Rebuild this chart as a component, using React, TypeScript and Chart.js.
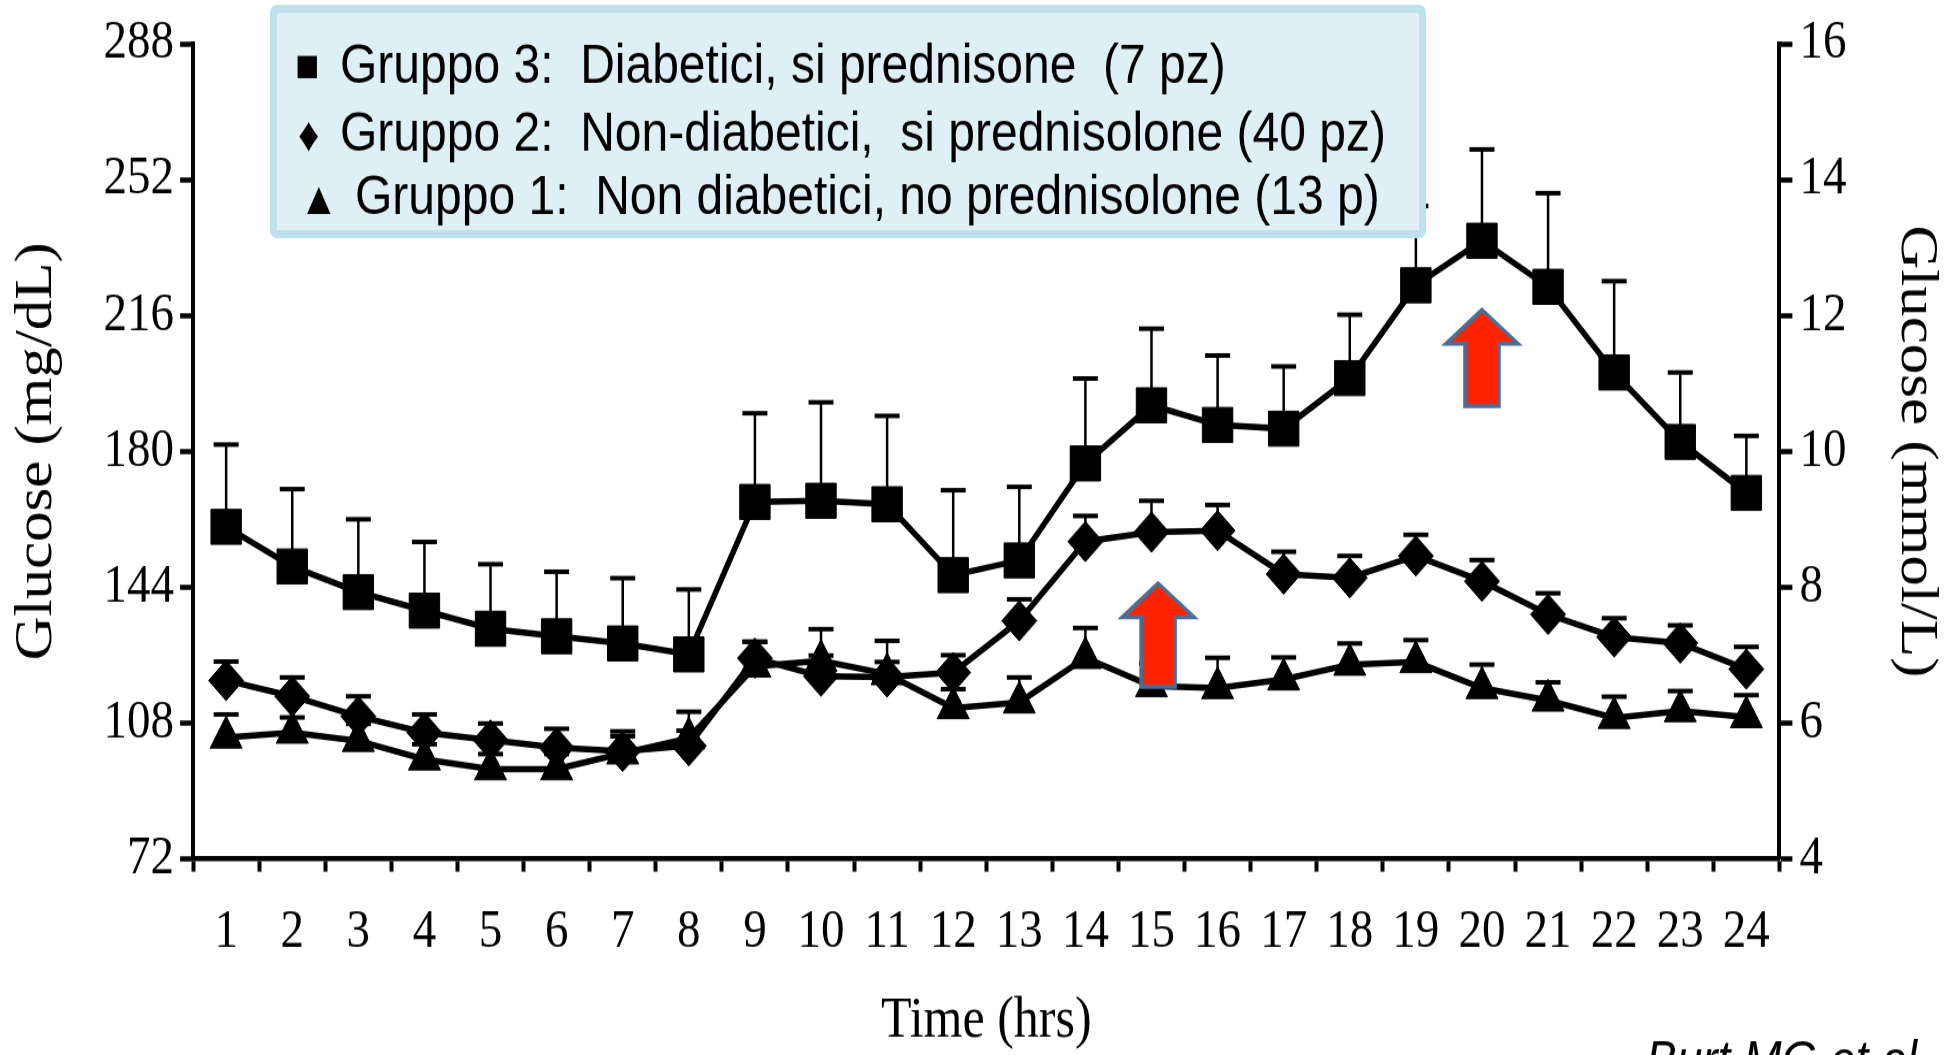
import React, { useEffect, useRef } from 'react';
import { Chart, registerables } from 'chart.js';

Chart.register(...registerables);

// ---------------- data ----------------
const hours: string[] = ['1','2','3','4','5','6','7','8','9','10','11','12','13','14','15','16','17','18','19','20','21','22','23','24'];

// Gruppo 3: Diabetici, si prednisone (squares)
const group3: number[] = [160.0, 149.5, 142.7, 137.8, 133.0, 131.0, 129.1, 126.2, 166.6, 166.9, 166.0, 147.2, 151.1, 176.8, 192.2, 187.0, 186.0, 199.4, 224.0, 235.8, 223.6, 200.9, 182.5, 169.0];
const group3Err: number[] = [21.8, 20.5, 19.3, 18.2, 17.1, 17.1, 17.3, 17.2, 23.5, 26.1, 23.4, 22.5, 19.5, 22.5, 20.3, 18.4, 16.5, 16.8, 21.0, 24.2, 24.8, 24.2, 18.4, 15.1];

// Gruppo 2: Non-diabetici, si prednisolone (diamonds)
const group2: number[] = [119.3, 115.1, 109.8, 105.5, 103.5, 101.5, 100.5, 102.0, 125.2, 120.4, 120.2, 121.4, 135.1, 156.1, 158.6, 159.0, 147.5, 146.5, 152.3, 145.6, 136.8, 130.8, 129.2, 122.3];
const group2Err: number[] = [5.0, 5.0, 5.3, 4.8, 4.4, 5.0, 5.3, 4.0, 4.4, 5.5, 4.0, 4.6, 5.7, 6.8, 8.3, 6.8, 5.9, 5.8, 5.6, 5.6, 5.6, 5.0, 4.7, 5.9];

// Gruppo 1: Non diabetici, no prednisolone (triangles)
const group1: number[] = [104.2, 105.5, 103.3, 98.4, 95.8, 95.8, 100.0, 104.0, 123.0, 124.5, 121.0, 112.0, 113.5, 125.3, 117.8, 117.3, 119.6, 123.5, 124.2, 117.3, 114.0, 109.4, 111.2, 109.6];
const group1Err: number[] = [6.1, 4.0, 4.5, 4.0, 4.0, 4.0, 4.5, 7.0, 6.5, 8.4, 8.8, 5.0, 6.6, 7.9, 6.0, 8.0, 5.8, 5.6, 5.8, 6.2, 4.8, 5.6, 5.3, 5.8];

const seriesLabels: string[] = [
  'Gruppo 3:  Diabetici, si prednisone  (7 pz)',
  'Gruppo 2:  Non-diabetici,  si prednisolone (40 pz)',
  'Gruppo 1:  Non diabetici, no prednisolone (13 p)',
];
const seriesSymbols: string[] = ['\u25A0', '\u2666', '\u25B2'];

const leftAxisMin = 72;
const leftAxisMax = 288;
const leftAxisStep = 36;
const rightAxisMin = 4;
const rightAxisMax = 16;
const rightAxisStep = 2;

// red arrows (hour position, tip value, bottom value in mg/dL)
const arrowHours: number[] = [15.1, 20];
const arrowTop: number[] = [145.0, 217.5];
const arrowBottom: number[] = [117.6, 192.0];

const citation = 'Burt MG et al.';

// ---------------- layout ----------------
const STRETCH = 1.15;
const W = 1952;
const H = Math.round(1055 / STRETCH);
const SERIF = '"Liberation Serif", "Times New Roman", serif';
const SANS = '"Liberation Sans", Arial, sans-serif';

const errorSets = [group3Err, group2Err, group1Err];

const errorBarPlugin = {
  id: 'errorBars',
  beforeDatasetsDraw(chart: any) {
    const { ctx, scales } = chart;
    const x = scales.x;
    const y = scales.y;
    ctx.save();
    ctx.strokeStyle = '#000';
    chart.data.datasets.forEach((ds: any, di: number) => {
      const errs = errorSets[di];
      ds.data.forEach((v: number, i: number) => {
        const px = x.getPixelForValue(i);
        const py = y.getPixelForValue(v);
        const pt = y.getPixelForValue(v + errs[i]);
        ctx.lineWidth = 2.5;
        ctx.beginPath();
        ctx.moveTo(px, py);
        ctx.lineTo(px, pt);
        ctx.stroke();
        ctx.lineWidth = 4;
        ctx.beginPath();
        ctx.moveTo(px - 12.5, pt);
        ctx.lineTo(px + 12.5, pt);
        ctx.stroke();
      });
    });
    ctx.restore();
  },
};

const overlayPlugin = {
  id: 'overlay',
  afterDatasetsDraw(chart: any) {
    const { ctx, scales } = chart;
    const x = scales.x;
    const y = scales.y;
    ctx.save();
    arrowHours.forEach((h, i) => {
      const cx = x.getPixelForValue(h - 1);
      const yt = y.getPixelForValue(arrowTop[i]);
      const yb = y.getPixelForValue(arrowBottom[i]);
      const headH = 29.5;
      const headHalf = 36;
      const shaftHalf = 17;
      ctx.beginPath();
      ctx.moveTo(cx, yt);
      ctx.lineTo(cx + headHalf, yt + headH);
      ctx.lineTo(cx + shaftHalf, yt + headH);
      ctx.lineTo(cx + shaftHalf, yb);
      ctx.lineTo(cx - shaftHalf, yb);
      ctx.lineTo(cx - shaftHalf, yt + headH);
      ctx.lineTo(cx - headHalf, yt + headH);
      ctx.closePath();
      ctx.fillStyle = '#FF2400';
      ctx.fill();
      ctx.lineWidth = 3.5;
      ctx.strokeStyle = '#4C6D96';
      ctx.lineJoin = 'miter';
      ctx.stroke();
    });
    ctx.restore();
  },
  afterDraw(chart: any) {
    const { ctx } = chart;
    ctx.save();
    // legend box
    const bx = 270, by = 4.3, bw = 1426 - 270, bh = 206.9 - 4.3;
    const lw = 7;
    ctx.fillStyle = '#DEEFF6';
    ctx.strokeStyle = '#BFE1EB';
    ctx.lineWidth = lw;
    ctx.beginPath();
    if ((ctx as any).roundRect) {
      (ctx as any).roundRect(bx + lw / 2, by + lw / 2, bw - lw, bh - lw, 3);
    } else {
      ctx.rect(bx + lw / 2, by + lw / 2, bw - lw, bh - lw);
    }
    ctx.fill();
    ctx.stroke();

    const baselines = [71.8, 131.0, 186.4];
    const symX = [295, 298, 299];
    const symSize = [40, 42, 40];
    const textX = [340, 340, 355];
    ctx.fillStyle = '#000';
    ctx.textBaseline = 'alphabetic';
    ctx.textAlign = 'left';
    seriesLabels.forEach((t, i) => {
      ctx.font = `${symSize[i]}px ${SANS}`;
      ctx.fillText(seriesSymbols[i], symX[i], baselines[i] - (i === 0 ? 2 : 0));
      ctx.font = `48px ${SANS}`;
      ctx.fillText(t, textX[i], baselines[i]);
    });

    // citation (cut off at bottom edge)
    ctx.font = `italic 46px ${SANS}`;
    ctx.fillText(citation, 1646, 937);
    ctx.restore();
  },
};

export default function App() {
  const canvasRef = useRef<HTMLCanvasElement | null>(null);

  useEffect(() => {
    document.body.style.margin = '0';
    document.body.style.overflow = 'hidden';
    const canvas = canvasRef.current;
    if (!canvas) return;

    const pointCommon = {
      borderColor: '#000',
      backgroundColor: '#000',
      pointBackgroundColor: '#000',
      pointBorderColor: '#000',
      pointBorderWidth: 1,
      borderWidth: 5.5,
      tension: 0,
      fill: false,
    };

    const chart = new Chart(canvas, {
      type: 'line',
      data: {
        labels: hours,
        datasets: [
          { ...pointCommon, label: seriesLabels[0], data: group3, pointStyle: 'rect', pointRadius: 21.5, pointHoverRadius: 21.5 },
          { ...pointCommon, label: seriesLabels[1], data: group2, pointStyle: 'rectRot', pointRadius: 17.5, pointHoverRadius: 17.5 },
          { ...pointCommon, label: seriesLabels[2], data: group1, pointStyle: 'triangle', pointRadius: 18.5, pointHoverRadius: 18.5 },
        ],
      },
      options: {
        animation: false,
        responsive: false,
        maintainAspectRatio: false,
        devicePixelRatio: 1,
        events: [],
        layout: { padding: { top: 38, left: 0, right: 0, bottom: 0 } },
        plugins: {
          legend: { display: false },
          tooltip: { enabled: false },
          title: { display: false },
        },
        scales: {
          x: {
            type: 'category',
            offset: true,
            grid: {
              display: true,
              offset: true,
              drawOnChartArea: false,
              drawTicks: true,
              tickLength: 11,
              tickWidth: 4,
              tickColor: '#000',
            },
            border: { display: true, color: '#000', width: 4.5 },
            ticks: {
              color: '#000',
              font: { family: SERIF, size: 47 },
              padding: 25,
              autoSkip: false,
              maxRotation: 0,
              minRotation: 0,
            },
            title: {
              display: true,
              text: 'Time (hrs)',
              color: '#000',
              font: { family: SERIF, size: 50 },
              padding: { top: -6, bottom: -1 },
            },
          },
          y: {
            type: 'linear',
            position: 'left',
            min: leftAxisMin,
            max: leftAxisMax,
            grid: {
              display: true,
              drawOnChartArea: false,
              drawTicks: true,
              tickLength: 13,
              tickWidth: 4.5,
              tickColor: '#000',
            },
            border: { display: true, color: '#000', width: 4 },
            ticks: {
              stepSize: leftAxisStep,
              color: '#000',
              font: { family: SERIF, size: 47 },
              padding: 6,
            },
            title: {
              display: true,
              text: 'Glucose (mg/dL)',
              color: '#000',
              font: { family: SERIF, size: 53 },
              padding: { top: 5, bottom: 29 },
            },
          },
          y2: {
            type: 'linear',
            position: 'right',
            min: rightAxisMin,
            max: rightAxisMax,
            grid: {
              display: true,
              drawOnChartArea: false,
              drawTicks: true,
              tickLength: 13,
              tickWidth: 4.5,
              tickColor: '#000',
            },
            border: { display: true, color: '#000', width: 4 },
            ticks: {
              stepSize: rightAxisStep,
              color: '#000',
              font: { family: SERIF, size: 47 },
              padding: 7,
            },
            title: {
              display: true,
              text: 'Glucose (mmol/L)',
              color: '#000',
              font: { family: SERIF, size: 53 },
              padding: { top: 4, bottom: 31 },
            },
          },
        },
      },
      plugins: [errorBarPlugin, overlayPlugin],
    } as any);

    return () => {
      chart.destroy();
    };
  }, []);

  return (
    <canvas
      ref={canvasRef}
      width={W}
      height={H}
      style={{ display: 'block', width: `${W}px`, height: '1055px' }}
    />
  );
}
